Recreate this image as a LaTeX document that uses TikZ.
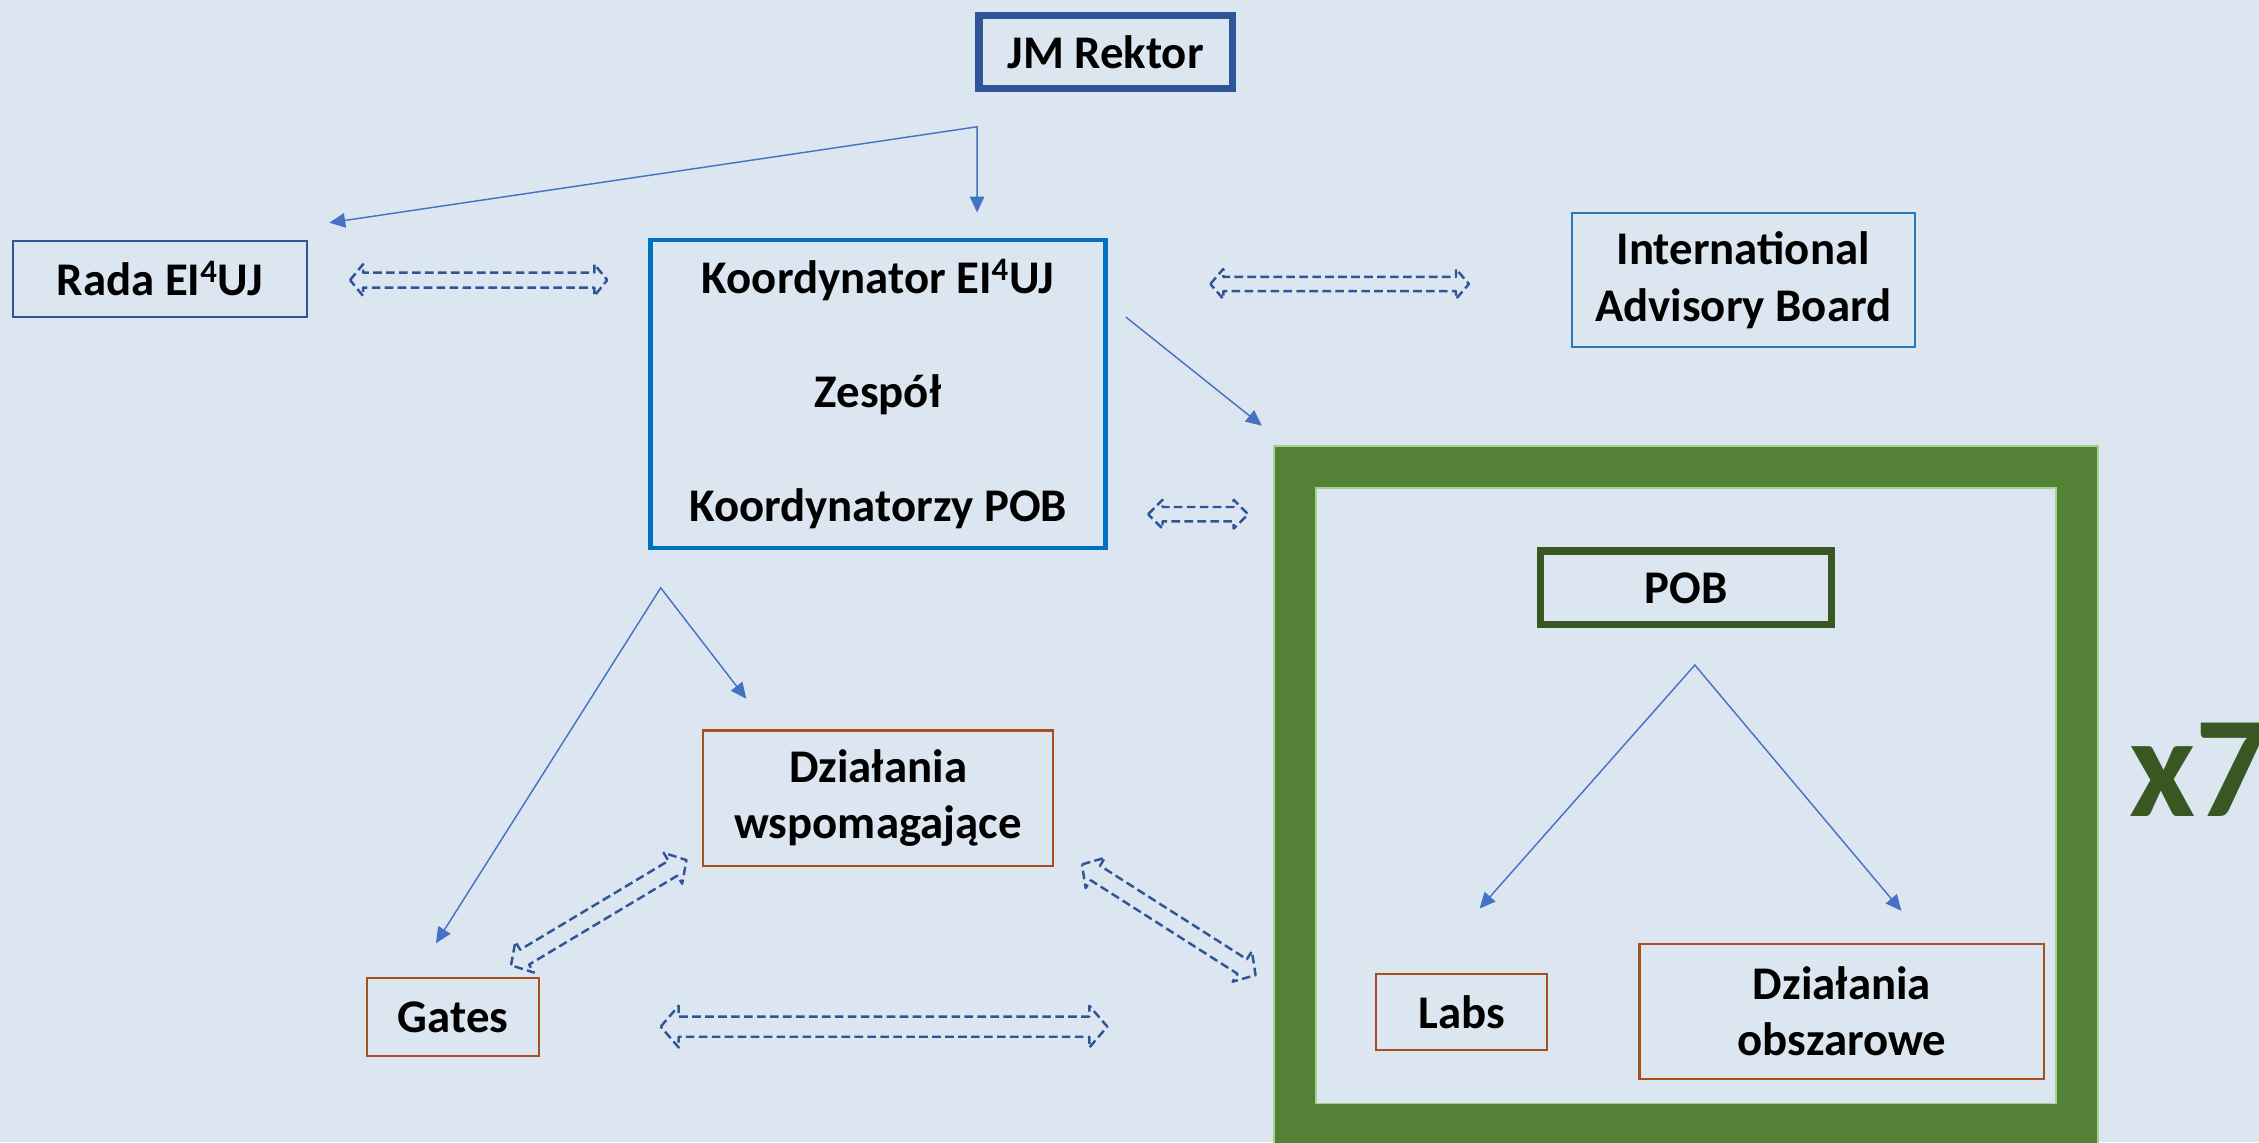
\documentclass[tikz,border=0pt]{standalone}
\usepackage{fontspec}
\setmainfont{Carlito}
\usetikzlibrary{arrows.meta,calc,positioning}
\definecolor{bgblue}{HTML}{DCE6F1}
\definecolor{rektorblue}{HTML}{2F5597}
\definecolor{koordblue}{HTML}{0070C0}
\definecolor{iabblue}{HTML}{2E75B6}
\definecolor{linkblue}{HTML}{4472C4}
\definecolor{dashblue}{HTML}{2F5597}
\definecolor{boxbrown}{HTML}{A5501E}
\definecolor{pobgreen}{HTML}{385723}
\definecolor{framegreen}{HTML}{538135}
\definecolor{lightgreen}{HTML}{A9D18E}

\tikzset{
	every node/.style={font=\fontsize{32.5}{39}\selectfont\bfseries, align=center, inner sep=0pt},
	bluebox/.style={draw=rektorblue, line width=1.5pt},
	brownbox/.style={draw=boxbrown, line width=1.5pt},
	link/.style={draw=linkblue, line width=1pt, arrows={-Triangle[length=11pt,width=10pt]}},
	dblink/.style={draw=dashblue, line width=1.7pt, dash pattern=on 6pt off 3pt, line join=round}
}

% hollow dashed double arrow: ends, shaft half width, head half width, head length
\newcommand{\dblarrow}[5]{%
	\draw[dblink] (#1)
	-- ($(#1)!#5!(#2)!#4!90:(#2)$) -- ($(#1)!#5!(#2)!#3!90:(#2)$)
	-- ($(#2)!#5!(#1)!#3!-90:(#1)$) -- ($(#2)!#5!(#1)!#4!-90:(#1)$)
	-- (#2)
	-- ($(#2)!#5!(#1)!#4!90:(#1)$) -- ($(#2)!#5!(#1)!#3!90:(#1)$)
	-- ($(#1)!#5!(#2)!#3!-90:(#2)$) -- ($(#1)!#5!(#2)!#4!-90:(#2)$)
	-- cycle;}

\begin{document}
\begin{tikzpicture}[x=1pt,y=-1pt]
	\useasboundingbox (0,0) rectangle (1568,792.7);
	\clip (0,0) rectangle (1568,792.7);
	\fill[bgblue] (0,0) rectangle (1568,792.7);

	% boxes
	\node[draw=rektorblue, line width=5pt, minimum width=176pt, minimum height=51pt] (rektor) at (767.5,36) {JM Rektor};
	\node[bluebox, minimum width=204pt, minimum height=53pt] (rada) at (111,193.5) {Rada EI\textsuperscript{4}UJ};
	\node[draw=koordblue, line width=3.2pt, minimum width=316pt, minimum height=214pt] (koord) at (609.5,273.5) {Koordynator EI\textsuperscript{4}UJ\\[40pt]Zespół\\[40pt]Koordynatorzy POB};
	\node[draw=iabblue, line width=1.5pt, minimum width=238pt, minimum height=93pt] (iab) at (1210,194.5) {International\\Advisory Board};
	\node[draw=lightgreen, line width=1.2pt, double=framegreen, double distance=28pt, minimum width=542.8pt, minimum height=456.5pt] (frame) at (1170.4,552.3) {};
	\node[draw=pobgreen, line width=5pt, minimum width=202pt, minimum height=51pt] (pob) at (1170.5,408) {POB};
	\node[brownbox, minimum width=119pt, minimum height=53pt] (labs) at (1014.5,702.5) {Labs};
	\node[brownbox, minimum width=281pt, minimum height=94pt] (obszar) at (1278.5,702) {Działania\\obszarowe};
	\node[brownbox, minimum width=243pt, minimum height=94pt] (wspom) at (609.5,554) {Działania\\wspomagające};
	\node[brownbox, minimum width=119pt, minimum height=54pt] (gates) at (314.5,706) {Gates};
	\node[font=\fontsize{100}{120}\selectfont\bfseries, text=pobgreen, anchor=base west] (times) at (1478,567) {x7};

	% arrows
	\coordinate (rsplit) at (678.2,88);
	\coordinate (radain) at (228.6,154.6);
	\coordinate (koordin) at (678.2,147.5);
	\draw[link,{Triangle[length=11pt,width=10pt]}-{Triangle[length=11pt,width=10pt]}] (radain) -- (rsplit) -- (koordin);
	\coordinate (kout) at (781.4,220);
	\coordinate (framein) at (875.9,295.5);
	\draw[link] (kout) -- (framein);
	\coordinate (ksplit) at (458.6,408);
	\coordinate (gatesin) at (302.6,654.7);
	\coordinate (wspomin) at (518,485);
	\draw[link,{Triangle[length=11pt,width=10pt]}-{Triangle[length=11pt,width=10pt]}] (gatesin) -- (ksplit) -- (wspomin);
	\coordinate (psplit) at (1176.4,461.6);
	\coordinate (labsin) at (1027,630.6);
	\coordinate (obszarin) at (1319.8,632.2);
	\draw[link,{Triangle[length=11pt,width=10pt]}-{Triangle[length=11pt,width=10pt]}] (labsin) -- (psplit) -- (obszarin);

	% dashed double arrows
	\coordinate (d1a) at (243,194.4);   \coordinate (d1b) at (421.5,194.4);
	\coordinate (d2a) at (840.1,197.1); \coordinate (d2b) at (1019.6,197.1);
	\coordinate (d3a) at (796.9,356.9); \coordinate (d3b) at (866.3,356.9);
	\coordinate (d4a) at (354.7,670);   \coordinate (d4b) at (476.5,597);
	\coordinate (d5a) at (751,600);     \coordinate (d5b) at (871.5,676.8);
	\coordinate (d6a) at (458.6,712.6); \coordinate (d6b) at (768.6,712.6);
	\dblarrow{d1a}{d1b}{5.2pt}{11pt}{9pt}
	\dblarrow{d2a}{d2b}{4.9pt}{10.4pt}{9pt}
	\dblarrow{d3a}{d3b}{5pt}{10pt}{10pt}
	\dblarrow{d4a}{d4b}{6pt}{12.5pt}{11pt}
	\dblarrow{d5a}{d5b}{6pt}{12.5pt}{11pt}
	\dblarrow{d6a}{d6b}{7pt}{14.5pt}{12.5pt}
\end{tikzpicture}
\end{document}
